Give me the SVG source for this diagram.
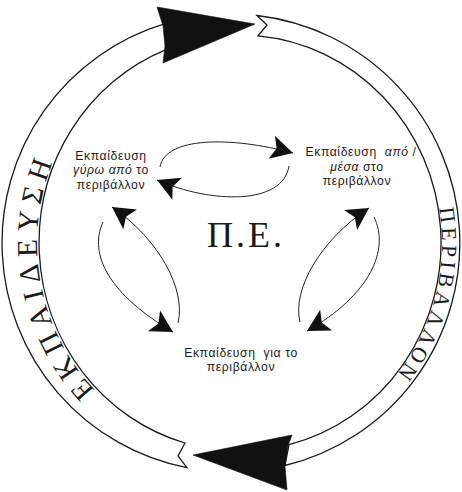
<svg xmlns="http://www.w3.org/2000/svg" width="462" height="492" viewBox="0 0 462 492">
<style>
.band{fill:#fff;stroke:#1a1a1a;stroke-width:1.3;stroke-linejoin:miter}
.head{fill:#111;stroke:#111;stroke-width:0.6;stroke-linejoin:round}
.ring{font-family:"Liberation Serif","DejaVu Serif",serif;fill:#1a1a1a}
.lbl{font-family:"Liberation Sans",Arial,sans-serif;font-size:12.2px;letter-spacing:0.6px;fill:#1a1a1a;text-anchor:middle}
.it{font-style:italic}
.arc{fill:none;stroke:#222;stroke-width:1}
</style>
<defs>
<marker id="dart" markerUnits="userSpaceOnUse" viewBox="-24 -14 26 28" refX="0" refY="0" markerWidth="26" markerHeight="28" orient="auto" overflow="visible">
<path d="M0,0 L-22,-12 L-17,0 L-22,12 Z" fill="#111"/>
</marker>
<path id="tpL" d="M95,390 A203,210 0 0 1 59,148"/>
<path id="tpR" d="M439.2,208 A202,209 0 0 1 391.7,381"/>
</defs>
<g id="ring-left">
<path class="band" d="M187,467.7 A229,229 0 0 1 165,23.7 L166,49.6 A201,208 0 0 0 185,443 L178,456 Z"/>
<polygon class="head" points="157,7 255,24 163,63 165,46 163,26"/>
<text class="ring" font-size="29"><textPath href="#tpL" textLength="244" lengthAdjust="spacing">ΕΚΠΑΙΔΕΥΣΗ</textPath></text>
</g>
<g id="ring-right">
<path class="band" d="M257,15.5 A229,229 0 0 1 285,465.5 L289,444.7 A201,208 0 0 0 258,35.8 L267,25 Z"/>
<polygon class="head" points="193,455 292,435 288,446 285,466 287,490"/>
<text class="ring" font-size="21.5"><textPath href="#tpR" textLength="176" lengthAdjust="spacing">ΠΕΡΙΒΑΛΛΟΝ</textPath></text>
</g>
<g id="node-around">
<text class="lbl" x="111" y="159.5">Εκπαίδευση</text>
<text class="lbl" x="111" y="174"><tspan class="it">γύρω από</tspan> το</text>
<text class="lbl" x="111" y="188.5">περιβάλλον</text>
</g>
<g id="node-in">
<text class="lbl" x="361" y="156" xml:space="preserve">Εκπαίδευση  <tspan class="it">από</tspan> /</text>
<text class="lbl" x="357" y="170.5"><tspan class="it">μέσα</tspan> στο</text>
<text class="lbl" x="357" y="185">περιβάλλον</text>
</g>
<g id="node-for">
<text class="lbl" x="241" y="356.5" xml:space="preserve">Εκπαίδευση  για το</text>
<text class="lbl" x="241" y="370.5">περιβάλλον</text>
</g>
<g id="center">
<text x="207" y="247" font-family="Liberation Serif, serif" font-size="36" letter-spacing="3" fill="#1a1a1a">Π.Ε.</text>
</g>
<g id="connectors">
<path class="arc" marker-end="url(#dart)" d="M160,167 C165,137 230,136 293,153"/>
<path class="arc" marker-end="url(#dart)" d="M289,166 C283,205 212,204 157,180"/>
<path class="arc" marker-end="url(#dart)" d="M178,323 C186,290 160,240 112,207"/>
<path class="arc" marker-end="url(#dart)" d="M103,222 C88,255 110,295 173,332"/>
<path class="arc" marker-end="url(#dart)" d="M300,322 C292,290 320,240 369,208"/>
<path class="arc" marker-end="url(#dart)" d="M374,217 C390,250 370,295 307,331"/>
</g>
</svg>
